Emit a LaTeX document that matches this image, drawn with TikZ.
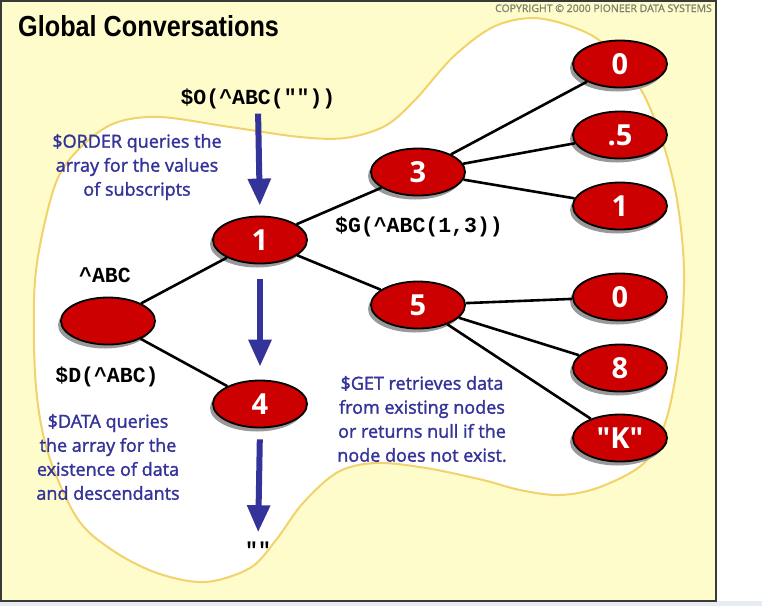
\documentclass[tikz,border=0pt]{standalone}
\usepackage{fontspec}
\usepackage{graphicx}
\usetikzlibrary{shapes.geometric,arrows.meta,shadows}
\newfontfamily\titlefont{Liberation Sans}
\newfontfamily\bluefont{Open Sans}[UprightFeatures={FakeBold=1.6}]
\newfontfamily\copyfont{Open Sans}[UprightFeatures={FakeBold=1.2}]
\newfontfamily\labfont{Open Sans}
\newfontfamily\monofont{Liberation Mono}
\definecolor{bg}{HTML}{FFFCCB}
\definecolor{blobline}{HTML}{F2D26A}
\definecolor{nodered}{HTML}{CC0000}
\definecolor{navy}{HTML}{333399}
\definecolor{copygray}{HTML}{7E7E6E}
\definecolor{frameline}{HTML}{3A3A3A}
\definecolor{strip}{HTML}{E6ECF2}
\begin{document}
\begin{tikzpicture}[x=1pt,y=-1pt,
  gnode/.style={ellipse, draw=black, line width=1.8pt, fill=nodered,
    minimum width=94pt, minimum height=47pt, inner sep=0pt, text=white,
    font=\labfont\bfseries\fontsize{29}{29}\selectfont,
    drop shadow={shadow xshift=-3pt, shadow yshift=-4pt, fill=black!40, opacity=1}},
  mono/.style={inner sep=0pt, font=\monofont\bfseries\fontsize{21.5}{21.5}\selectfont},
  bluetext/.style={align=center, text=navy, inner sep=0pt,
    font=\bluefont\fontsize{18}{24}\selectfont},
  edge/.style={line width=2.6pt, black},
  bluearrow/.style={line width=6pt, navy, -{Triangle[length=27pt,width=22pt]}}
]
\useasboundingbox (0,0) rectangle (762,606);
\fill[white] (0,0) rectangle (762,606);
\fill[strip] (0,601) rectangle (762,606);
\draw[fill=bg, draw=frameline, line width=1.5pt] (0.75,0.75) rectangle (716,601);
% blob
\draw[fill=white, draw=blobline, line width=2pt]
  plot[smooth cycle, tension=0.55] coordinates {
  (34,300) (40,245) (57,180) (82,146) (115,123) (160,117) (230,127) (300,137)
  (345,138) (385,126) (415,100) (453,57) (493,27) (533,18) (573,27) (605,45)
  (640,88) (662,140) (677,200) (684,270) (680,345) (667,417) (645,462)
  (600,487) (560,495) (520,490) (483,480) (426,468) (376,463) (338,472)
  (303,503) (276,540) (250,568) (205,582) (157,573) (112,550) (77,518)
  (48,453) (36,387)};
% title and copyright
\node[anchor=base west, inner sep=0pt, font=\titlefont\bfseries\fontsize{29}{29}\selectfont]
  (title) at (18,36) {\scalebox{0.87}[1]{Global Conversations}};
\node[anchor=base east, inner sep=0pt, text=copygray, font=\copyfont\fontsize{10.5}{11}\selectfont]
  (copy) at (712,12) {COPYRIGHT © 2000 PIONEER DATA SYSTEMS};
% nodes
\node[gnode] (root) at (108,321) {};
\node[gnode] (n1) at (260,240) {1};
\node[gnode] (n4) at (260,404) {4};
\node[gnode] (n3) at (418,172) {3};
\node[gnode] (n5) at (418,305) {5};
\node[gnode] (r0) at (620,64) {0};
\node[gnode] (r05) at (620,135) {.5};
\node[gnode] (r1) at (620,206) {1};
\node[gnode] (s0) at (620,297) {0};
\node[gnode] (s8) at (620,368) {8};
\node[gnode] (sK) at (620,438) {"K"};
% edges
\draw[edge] (root) -- (n1);
\draw[edge] (root) -- (n4);
\draw[edge] (n1) -- (n3);
\draw[edge] (n1) -- (n5);
\draw[edge] (n3) -- (r0);
\draw[edge] (n3) -- (r05);
\draw[edge] (n3) -- (r1);
\draw[edge] (n5) -- (s0);
\draw[edge] (n5) -- (s8);
\draw[edge] (n5) -- (sK);
% mono labels
\node[mono, anchor=base] (sO) at (258,104) {\$O(\textasciicircum ABC(""))};
\node[mono, anchor=base] (sG) at (419,232) {\$G(\textasciicircum ABC(1,3))};
\node[mono, anchor=base] (sA) at (105,282) {\textasciicircum ABC};
\node[mono, anchor=base] (sD) at (107,382) {\$D(\textasciicircum ABC)};
\node[mono, anchor=base] (sE) at (258,557) {""};
% blue texts
\node[bluetext] (tOrder) at (137,167) {\$ORDER queries the\\array for the values\\of subscripts};
\node[bluetext] (tData) at (108,457) {\$DATA queries\\the array for the\\existence of data\\and descendants};
\node[bluetext] (tGet) at (422,419) {\$GET retrieves data\\from existing nodes\\or returns null if the\\node does not exist.};
% arrows
\draw[bluearrow, shorten <=5pt, shorten >=10pt] (sO.south) -- (n1.north);
\draw[bluearrow, shorten <=15pt, shorten >=13pt] (n1.south) -- (n4.north);
\draw[bluearrow, shorten <=11pt, shorten >=9pt] (n4.south) -- (sE.north);
\end{tikzpicture}
\end{document}
